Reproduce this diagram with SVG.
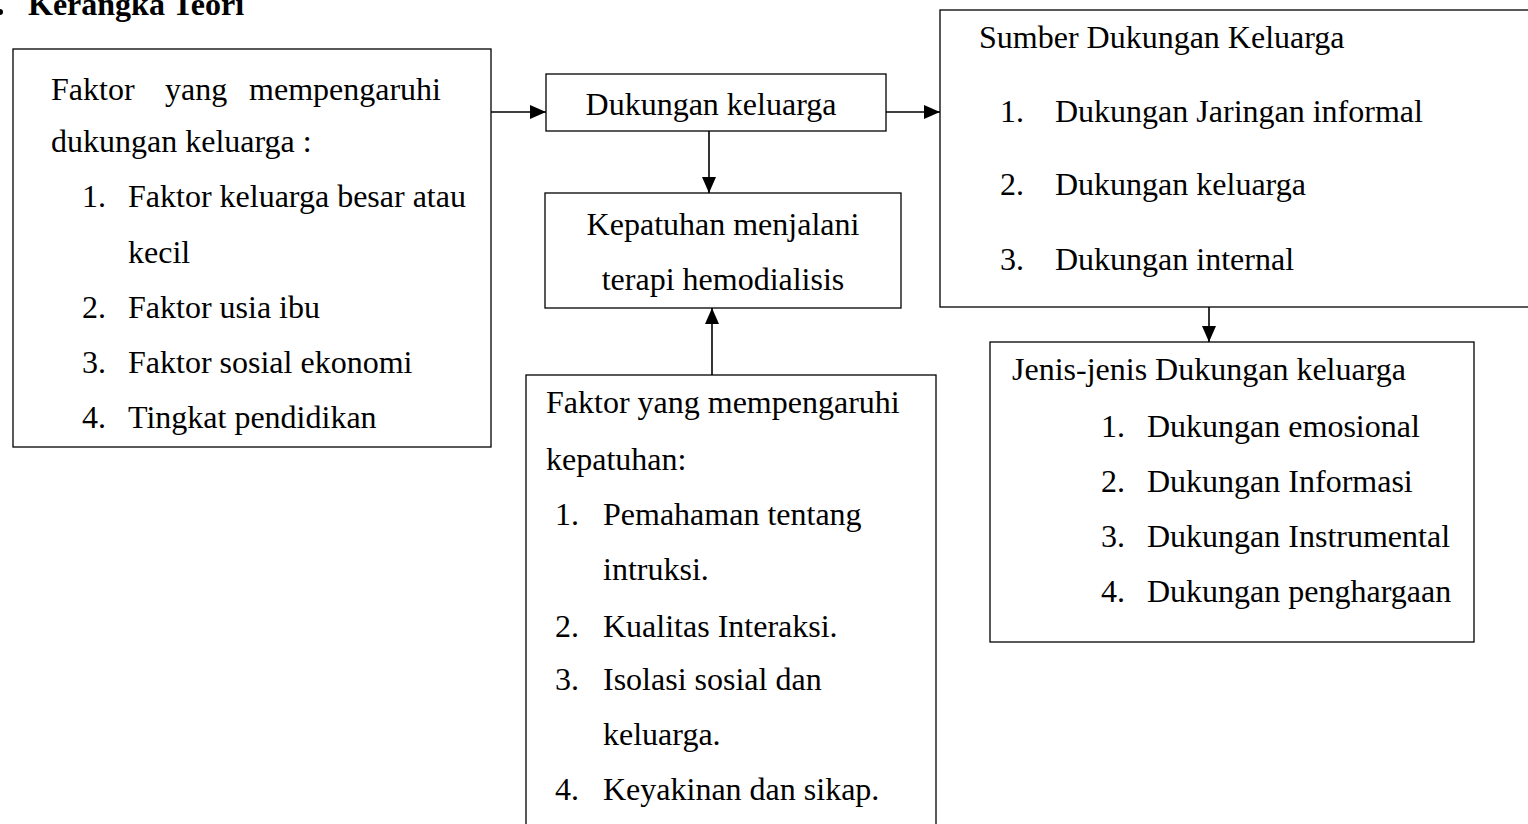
<svg xmlns="http://www.w3.org/2000/svg" width="1528" height="824" viewBox="0 0 1528 824">
<style>
  .box{fill:#fff;stroke:#000;stroke-width:1.3}
  .t{font-family:"Liberation Serif","Times New Roman",serif;font-size:32px;fill:#000}
  .b{font-weight:bold}
  .c{text-anchor:middle}
  .ln{stroke:#000;stroke-width:1.6;fill:none}
</style>
<defs>
  <marker id="ah2" viewBox="0 0 16 14" refX="16" refY="7" markerWidth="16" markerHeight="14" markerUnits="userSpaceOnUse" orient="auto">
    <path d="M0,0 L16,7 L0,14 Z" fill="#000"/>
  </marker>
</defs>
<rect width="1528" height="824" fill="#fff"/>
<g id="title">
  <circle cx="0" cy="12" r="3" fill="#000"/>
  <text class="t b" x="28" y="15">Kerangka Teori</text>
</g>
<g id="connectors">
  <line class="ln" x1="491" y1="112" x2="546" y2="112" marker-end="url(#ah2)"/>
  <line class="ln" x1="886" y1="112" x2="940" y2="112" marker-end="url(#ah2)"/>
  <line class="ln" x1="709" y1="131" x2="709" y2="193" marker-end="url(#ah2)"/>
  <line class="ln" x1="712" y1="375" x2="712" y2="308" marker-end="url(#ah2)"/>
  <line class="ln" x1="1209" y1="307" x2="1209" y2="342" marker-end="url(#ah2)"/>
</g>
<g id="faktor-dukungan">
  <rect class="box" x="13" y="49" width="478" height="398"/>
  <text class="t" x="51" y="100">Faktor</text>
  <text class="t" x="165" y="100">yang</text>
  <text class="t" x="441" y="100" text-anchor="end">mempengaruhi</text>
  <text class="t" x="51" y="152">dukungan keluarga :</text>
  <text class="t" x="82" y="207">1.</text><text class="t" x="128" y="207">Faktor keluarga besar atau</text>
  <text class="t" x="128" y="263">kecil</text>
  <text class="t" x="82" y="318">2.</text><text class="t" x="128" y="318">Faktor usia ibu</text>
  <text class="t" x="82" y="373">3.</text><text class="t" x="128" y="373">Faktor sosial ekonomi</text>
  <text class="t" x="82" y="428">4.</text><text class="t" x="128" y="428">Tingkat pendidikan</text>
</g>
<g id="dukungan-keluarga">
  <rect class="box" x="546" y="74" width="340" height="57"/>
  <text class="t c" x="711" y="115">Dukungan keluarga</text>
</g>
<g id="kepatuhan">
  <rect class="box" x="545" y="193" width="356" height="115"/>
  <text class="t c" x="723" y="235">Kepatuhan menjalani</text>
  <text class="t c" x="723" y="290">terapi hemodialisis</text>
</g>
<g id="faktor-kepatuhan">
  <rect class="box" x="526" y="375" width="410" height="460"/>
  <text class="t" x="546" y="413">Faktor yang mempengaruhi</text>
  <text class="t" x="546" y="470">kepatuhan:</text>
  <text class="t" x="555" y="525">1.</text><text class="t" x="603" y="525">Pemahaman tentang</text>
  <text class="t" x="603" y="580">intruksi.</text>
  <text class="t" x="555" y="637">2.</text><text class="t" x="603" y="637">Kualitas Interaksi.</text>
  <text class="t" x="555" y="690">3.</text><text class="t" x="603" y="690">Isolasi sosial dan</text>
  <text class="t" x="603" y="745">keluarga.</text>
  <text class="t" x="555" y="800">4.</text><text class="t" x="603" y="800">Keyakinan dan sikap.</text>
</g>
<g id="sumber-dukungan">
  <rect class="box" x="940" y="10" width="600" height="297"/>
  <text class="t" x="979" y="48">Sumber Dukungan Keluarga</text>
  <text class="t" x="1000" y="122">1.</text><text class="t" x="1055" y="122">Dukungan Jaringan informal</text>
  <text class="t" x="1000" y="195">2.</text><text class="t" x="1055" y="195">Dukungan keluarga</text>
  <text class="t" x="1000" y="270">3.</text><text class="t" x="1055" y="270">Dukungan internal</text>
</g>
<g id="jenis-dukungan">
  <rect class="box" x="990" y="342" width="484" height="300"/>
  <text class="t" x="1012" y="380">Jenis-jenis Dukungan keluarga</text>
  <text class="t" x="1101" y="437">1.</text><text class="t" x="1147" y="437">Dukungan emosional</text>
  <text class="t" x="1101" y="492">2.</text><text class="t" x="1147" y="492">Dukungan Informasi</text>
  <text class="t" x="1101" y="547">3.</text><text class="t" x="1147" y="547">Dukungan Instrumental</text>
  <text class="t" x="1101" y="602">4.</text><text class="t" x="1147" y="602">Dukungan penghargaan</text>
</g>
</svg>
